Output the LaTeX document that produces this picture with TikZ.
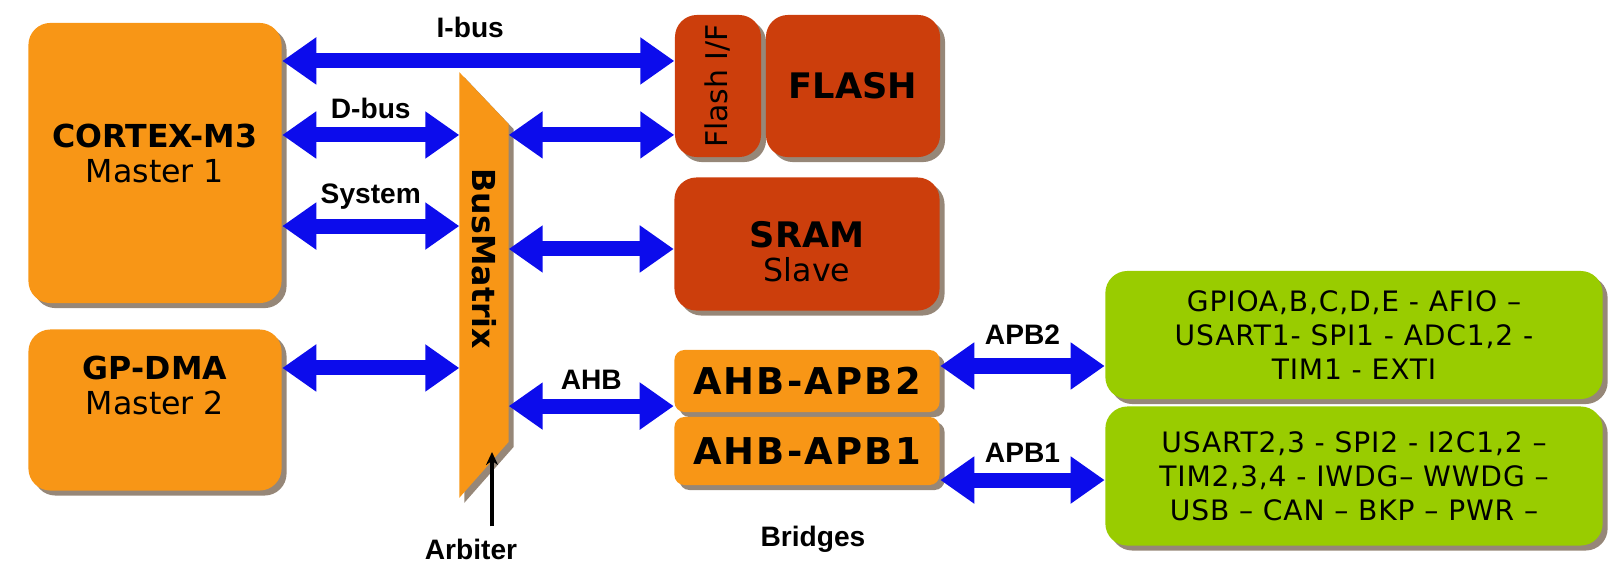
\documentclass[tikz,border=0pt]{standalone}
\usepackage{fontspec}
\setmainfont{DejaVu Sans}
\newfontfamily\labelfont{Liberation Sans}
\usetikzlibrary{arrows.meta,positioning,shadows,calc}
\definecolor{CoreOrange}{RGB}{248,150,22}
\definecolor{MemRed}{RGB}{204,62,12}
\definecolor{PeriphGreen}{RGB}{153,204,0}
\definecolor{BusBlue}{RGB}{12,12,236}
\definecolor{ShadowGray}{RGB}{150,135,120}

\begin{document}
\begin{tikzpicture}[x=0.01cm,y=-0.01cm,
    box/.style={rounded corners=0.22cm,inner sep=0pt,align=center,
                drop shadow={shadow xshift=0.05cm,shadow yshift=-0.05cm,
                             fill=ShadowGray,opacity=1}},
    master/.style={box,fill=CoreOrange,minimum width=2.53cm,
                   font=\fontsize{9}{10}\selectfont},
    mem/.style={box,fill=MemRed,font=\fontsize{9}{11}\selectfont},
    bridge/.style={box,fill=CoreOrange,rounded corners=0.1cm,minimum width=2.65cm,
                   font=\fontsize{10.5}{12}\selectfont\bfseries\addfontfeature{LetterSpace=6}},
    periph/.style={box,fill=PeriphGreen,minimum width=4.97cm,
                   font=\fontsize{8}{9.6}\selectfont\addfontfeature{LetterSpace=3}},
    bus/.style={draw=BusBlue,line width=0.15cm,
                {Triangle[length=0.34cm,width=0.45cm]}-{Triangle[length=0.34cm,width=0.45cm]}},
    buslabel/.style={font=\labelfont\fontsize{8}{10}\selectfont\bfseries}
  ]
  \useasboundingbox (0,0) rectangle (1624,572);

  % masters
  \node[master,minimum height=2.80cm] (cortex) at (155,163)
    {{\bfseries CORTEX-M3}\\Master 1\\[-4.4pt]\mbox{}};
  \node[master,minimum height=1.61cm] (dma) at (155,410)
    {{\bfseries GP-DMA}\\Master 2\\[4pt]\mbox{}};

  % bus matrix
  \node[minimum width=0.48cm,minimum height=4.24cm,inner sep=0pt] (bm) at (484,285) {};
  \fill[CoreOrange,drop shadow={shadow xshift=0.05cm,shadow yshift=-0.05cm,
                                fill=ShadowGray,opacity=1}]
    (bm.north west) -- ([yshift=-0.52cm]bm.north east)
    -- ([yshift=0.56cm]bm.south east) -- (bm.south west) -- cycle;
  \node[font=\fontsize{9}{11}\selectfont\bfseries] (bmtext) at ([yshift=0.26cm]bm.center)
    {\rotatebox{-90}{BusMatrix}};

  % slaves
  \node[mem,minimum width=0.86cm,minimum height=1.42cm] (fif) at (718,86)
    {\rotatebox{90}{\fontsize{8.5}{9}\selectfont Flash I/F}};
  \node[mem,minimum width=1.74cm,minimum height=1.42cm,font=\fontsize{10}{12}\selectfont\bfseries]
    (flash) at (853,86) {FLASH};
  \node[mem,minimum width=2.65cm,minimum height=1.33cm] (sram) at (807,244)
    {\mbox{}\\[0.7pt]{\fontsize{10}{12}\selectfont\bfseries SRAM}\\[-1.2pt]Slave};

  % bridges
  \node[bridge,minimum height=0.62cm] (apb2) at (807,381) {AHB-APB2};
  \node[bridge,minimum height=0.68cm] (apb1) at (807,451) {AHB-APB1};
  \node[buslabel] (brg) at (813,539) {Bridges};

  % peripherals
  \node[periph,minimum height=1.28cm] (per2) at (1354,335)
    {GPIOA,B,C,D,E - AFIO --\\USART1- SPI1 - ADC1,2 -\\TIM1 - EXTI};
  \node[periph,minimum height=1.39cm] (per1) at (1354,476)
    {USART2,3 - SPI2 - I2C1,2 --\\TIM2,3,4 - IWDG-- WWDG --\\USB -- CAN -- BKP -- PWR --};

  % buses
  \draw[bus] ([yshift=1.02cm]cortex.east) coordinate (ib) -- (fif.west |- ib)
    node[buslabel,midway,xshift=-0.08cm,yshift=0.33cm] {I-bus};
  \draw[bus] ([yshift=0.28cm]cortex.east) coordinate (db) -- (bm.west |- db)
    node[buslabel,midway,yshift=0.27cm] {D-bus};
  \draw[bus] ([yshift=-0.63cm]cortex.east) coordinate (sb) -- (bm.west |- sb)
    node[buslabel,midway,yshift=0.29cm] {System};
  \draw[bus] ([yshift=0.42cm]dma.east) coordinate (mb) -- (bm.west |- mb);
  \draw[bus] ([yshift=1.50cm]bm.east) coordinate (fb) -- (fif.west |- fb);
  \draw[bus] ([yshift=0.36cm]bm.east) coordinate (rb) -- (sram.west |- rb);
  \draw[bus] ([yshift=-1.21cm]bm.east) coordinate (ab) -- (apb2.west |- ab)
    node[buslabel,midway,yshift=0.26cm] {AHB};
  \draw[bus] ([yshift=0.15cm]apb2.east) coordinate (p2) -- (per2.west |- p2)
    node[buslabel,midway,yshift=0.31cm] {APB2};
  \draw[bus] ([yshift=-0.29cm]apb1.east) coordinate (p1) -- (per1.west |- p1)
    node[buslabel,midway,yshift=0.27cm] {APB1};

  % arbiter
  \node[buslabel] (arb) at (471,549) {Arbiter};
  \coordinate (arbtip) at (492,452);
  \draw[-{Stealth[length=0.13cm,width=0.12cm]},line width=0.045cm] (arb.north -| arbtip) -- (arbtip);
\end{tikzpicture}
\end{document}
